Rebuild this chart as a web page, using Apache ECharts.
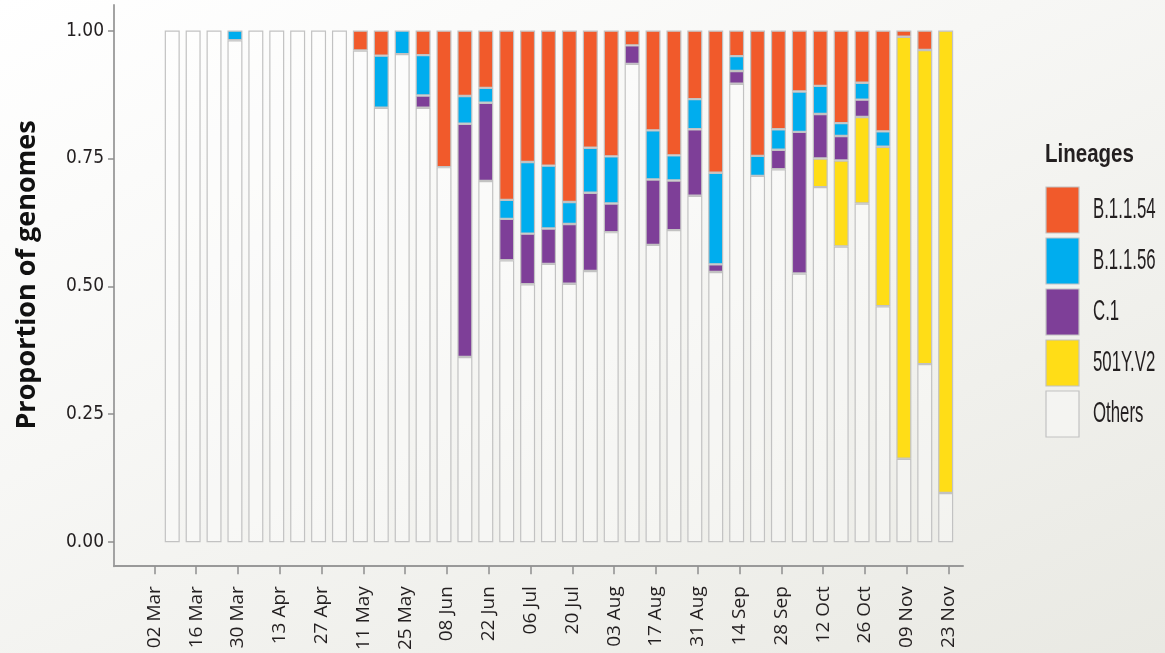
<!DOCTYPE html>
<html>
<head>
<meta charset="utf-8">
<script src="https://cdn.jsdelivr.net/npm/echarts@6/dist/echarts.min.js"></script>
<style>
  html, body { margin: 0; padding: 0; }
  #chart {
    width: 1165px; height: 653px;
    background: linear-gradient(155deg, #ffffff 0%, #f7f7f5 40%, #e9e9e3 100%);
  }
</style>
</head>
<body>
<div id="chart"></div>
<script>
// Sampling weeks (one stacked bar per week, 2020)
const weeks = [
  '08 Mar','15 Mar','22 Mar','29 Mar','05 Apr','12 Apr','19 Apr','26 Apr',
  '03 May','10 May','17 May','24 May','31 May','07 Jun','14 Jun','21 Jun',
  '28 Jun','05 Jul','12 Jul','19 Jul','26 Jul','02 Aug','09 Aug','16 Aug',
  '23 Aug','30 Aug','06 Sep','13 Sep','20 Sep','27 Sep','04 Oct','11 Oct',
  '18 Oct','25 Oct','01 Nov','08 Nov','15 Nov','22 Nov'
];

// Fortnightly axis labels
const tickLabels = [
  '02 Mar','16 Mar','30 Mar','13 Apr','27 Apr','11 May','25 May','08 Jun',
  '22 Jun','06 Jul','20 Jul','03 Aug','17 Aug','31 Aug','14 Sep','28 Sep',
  '12 Oct','26 Oct','09 Nov','23 Nov'
];

const yTicks = [0, 0.25, 0.5, 0.75, 1];

// Proportion of genomes per lineage and week
const others = [
  1, 1, 1, 0.981, 1, 1, 1, 1, 1, 0.961, 0.849, 0.954, 0.849, 0.733, 0.362, 0.706,
  0.551, 0.504, 0.544, 0.505, 0.530, 0.606, 0.935, 0.581, 0.610, 0.677, 0.528, 0.896,
  0.716, 0.729, 0.525, 0.694, 0.578, 0.662, 0.461, 0.163, 0.348, 0.096
];
const v501Y = [
  0, 0, 0, 0, 0, 0, 0, 0, 0, 0, 0, 0, 0, 0, 0, 0,
  0, 0, 0, 0, 0, 0, 0, 0, 0, 0, 0, 0,
  0, 0, 0, 0.056, 0.168, 0.169, 0.312, 0.825, 0.614, 0.904
];
const c1 = [
  0, 0, 0, 0, 0, 0, 0, 0, 0, 0, 0, 0, 0.024, 0, 0.456, 0.153,
  0.081, 0.099, 0.069, 0.117, 0.153, 0.056, 0.036, 0.128, 0.097, 0.130, 0.015, 0.025,
  0, 0.038, 0.277, 0.087, 0.048, 0.034, 0, 0, 0, 0
];
const b1156 = [
  0, 0, 0, 0.019, 0, 0, 0, 0, 0, 0, 0.102, 0.046, 0.079, 0, 0.054, 0.029,
  0.037, 0.140, 0.123, 0.043, 0.088, 0.092, 0, 0.096, 0.049, 0.059, 0.179, 0.029,
  0.039, 0.040, 0.079, 0.055, 0.025, 0.033, 0.030, 0, 0, 0
];
const b1154 = [
  0, 0, 0, 0, 0, 0, 0, 0, 0, 0.039, 0.049, 0, 0.048, 0.267, 0.128, 0.112,
  0.331, 0.257, 0.264, 0.335, 0.229, 0.246, 0.029, 0.195, 0.244, 0.134, 0.278, 0.050,
  0.245, 0.193, 0.119, 0.108, 0.181, 0.102, 0.197, 0.012, 0.038, 0
];

const lineageNames = ['B.1.1.54', 'B.1.1.56', 'C.1', '501Y.V2', 'Others'];
const lineageColors = {
  'B.1.1.54': '#f15a2b',
  'B.1.1.56': '#00adee',
  'C.1': '#7e3f98',
  '501Y.V2': '#ffdd17',
  'Others': 'rgba(255,255,255,0.35)'
};

const MONTHS = { Jan: 0, Feb: 1, Mar: 2, Apr: 3, May: 4, Jun: 5, Jul: 6, Aug: 7, Sep: 8, Oct: 9, Nov: 10, Dec: 11 };
const ORIGIN = Date.UTC(2020, 2, 2);
function dayOf(label) {
  const parts = label.split(' ');
  return (Date.UTC(2020, MONTHS[parts[1]], +parts[0]) - ORIGIN) / 86400000;
}
const weekDays = weeks.map(dayOf);
const tickDays = tickLabels.map(dayOf);

const COND_FONT = '"DejaVu Sans Condensed", "DejaVu Sans", sans-serif';
const TEXT = '#231f20';
const EDGE = '#c2c2c2';

// Column 0 holds the share (stacked), column 1 the day offset
function barSeries(name, values) {
  return {
    name: name,
    type: 'bar',
    stack: 'share',
    barWidth: 15,
    encode: { x: 1, y: 0 },
    itemStyle: { color: lineageColors[name], borderColor: EDGE, borderWidth: 1.2 },
    data: values.map((v, i) => [v > 0 ? v : null, weekDays[i]])
  };
}

// Legend block: title, swatches and condensed labels
const legendTop = 187, legendStep = 51, swatchW = 33, swatchH = 46, legendX = 1046;
const legendGraphics = [{
  type: 'text',
  x: 1045, y: 155,
  scaleX: 0.82,
  style: {
    text: 'Lineages',
    fontFamily: '"Liberation Sans", sans-serif',
    fontWeight: 'bold',
    fontSize: 25,
    fill: TEXT,
    align: 'left',
    verticalAlign: 'middle'
  }
}];
lineageNames.forEach((name, i) => {
  const y0 = legendTop + i * legendStep;
  legendGraphics.push({
    type: 'rect',
    shape: { x: legendX, y: y0, width: swatchW, height: swatchH },
    style: { fill: lineageColors[name], stroke: EDGE, lineWidth: 1.2 }
  });
  legendGraphics.push({
    type: 'text',
    x: 1093, y: y0 + swatchH / 2,
    scaleX: 0.56,
    style: {
      text: name,
      fontFamily: '"Liberation Sans", sans-serif',
      fontSize: 30,
      fill: TEXT,
      align: 'left',
      verticalAlign: 'middle'
    }
  });
});

const chart = echarts.init(document.getElementById('chart'), null, { renderer: 'canvas' });
chart.setOption({
  animation: false,
  backgroundColor: 'transparent',
  grid: { left: 114, right: 202, top: 5, bottom: 86 },
  xAxis: {
    type: 'value',
    min: -13.5,
    max: 270.8,
    splitLine: { show: false },
    axisLine: { show: true, onZero: false, lineStyle: { color: '#999999', width: 2 } },
    axisTick: { show: true, customValues: tickDays, length: 8, lineStyle: { color: '#8f8f8f', width: 1.5 } },
    axisLabel: {
      customValues: tickDays,
      rotate: 90,
      margin: 20,
      fontFamily: '"Open Sans", sans-serif',
      fontSize: 19,
      color: TEXT,
      formatter: v => tickLabels[tickDays.indexOf(v)] || ''
    }
  },
  yAxis: {
    type: 'value',
    min: -0.047,
    max: 1.05,
    splitLine: { show: false },
    axisLine: { show: true, onZero: false, lineStyle: { color: '#a3a3a3', width: 2 } },
    axisTick: { show: true, customValues: yTicks, length: 6, lineStyle: { color: '#8f8f8f', width: 1.5 } },
    axisLabel: {
      customValues: yTicks,
      margin: 10,
      fontFamily: COND_FONT,
      fontSize: 19,
      color: TEXT,
      formatter: v => v.toFixed(2)
    }
  },
  graphic: [{
    type: 'text',
    x: 27,
    y: 275,
    rotation: Math.PI / 2,
    style: {
      text: 'Proportion of genomes',
      fontFamily: '"Open Sans", sans-serif',
      fontWeight: 'bold',
      fontSize: 27,
      fill: '#111111',
      align: 'center',
      verticalAlign: 'middle'
    }
  }].concat(legendGraphics),
  series: [
    barSeries('Others', others),
    barSeries('501Y.V2', v501Y),
    barSeries('C.1', c1),
    barSeries('B.1.1.56', b1156),
    barSeries('B.1.1.54', b1154)
  ]
});
</script>
</body>
</html>
